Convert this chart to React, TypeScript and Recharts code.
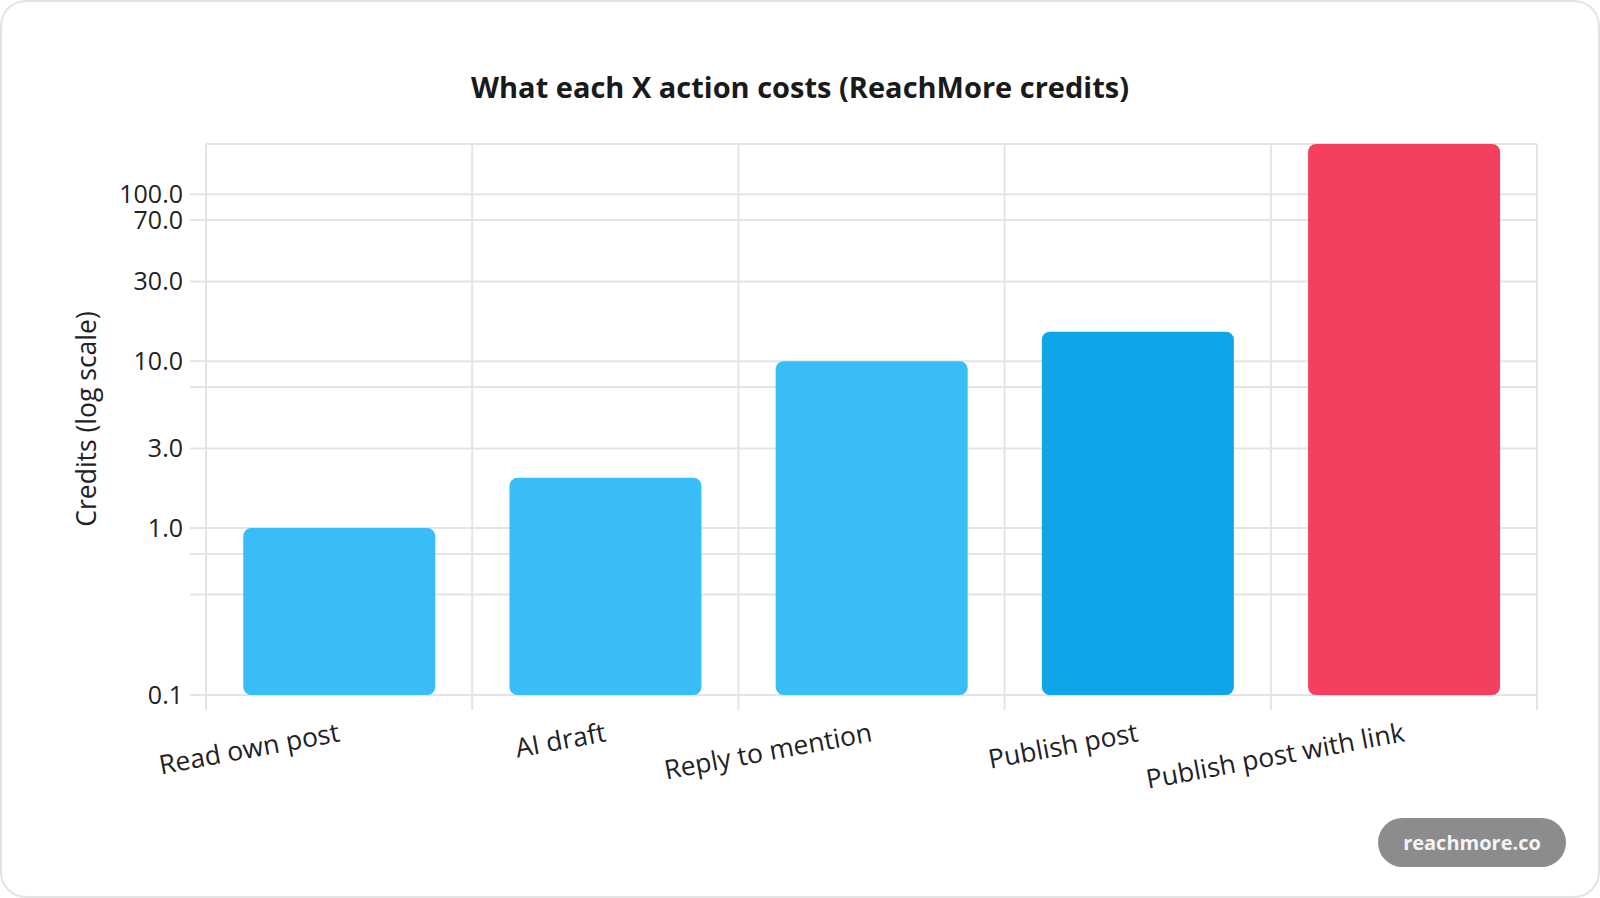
import React from 'react';
import { BarChart, Bar, XAxis, YAxis, CartesianGrid, Cell } from 'recharts';

const categories = ['Read own post', 'AI draft', 'Reply to mention', 'Publish post', 'Publish post with link'];
const credits = [1, 2, 10, 15, 200];
const barColors = ['#38bdf8', '#38bdf8', '#38bdf8', '#0ea5e9', '#f43f5e'];
const yTicks = [0.1, 0.4, 0.7, 1, 3, 7, 10, 30, 70, 100];
const yTickLabels = [0.1, 1, 3, 10, 30, 70, 100];
const yDomain = [0.1, 200];

const data = categories.map((name, i) => ({ name, credits: credits[i] }));

const W = 1600;
const H = 898;
const MARGIN = { top: 144, right: 63, bottom: 143, left: 46 };
const Y_AXIS_W = 160;
const X_AXIS_H = 60;
const GRID = '#e4e4e4';
const TEXT = '#222222';
const FONT = "'Open Sans', 'Noto Sans', sans-serif";
const X_TICK_SIZE = 15;
const X_TICK_MARGIN = 22;
const TICK_FONT = 25;
const X_LABEL_FONT = 26.5;

const plotWidth = W - MARGIN.left - MARGIN.right - Y_AXIS_W;
const step = plotWidth / categories.length;

function XTick(props: any) {
  const { x, y, payload, index } = props;
  const axisY = y - X_TICK_SIZE - X_TICK_MARGIN;
  const left = x - step / 2;
  const right = x + step / 2;
  return (
    <g>
      <line x1={left} x2={left} y1={axisY} y2={axisY + X_TICK_SIZE} stroke={GRID} strokeWidth={2} />
      {index === categories.length - 1 && (
        <line x1={right} x2={right} y1={axisY} y2={axisY + X_TICK_SIZE} stroke={GRID} strokeWidth={2} />
      )}
      <text
        x={x}
        y={y}
        dy="0.35em"
        textAnchor="end"
        transform={`rotate(-10.5 ${x} ${y})`}
        fill={TEXT}
        fontSize={X_LABEL_FONT}
        fontFamily={FONT}
      >
        {payload.value}
      </text>
    </g>
  );
}

function YTick(props: any) {
  const { x, y, payload } = props;
  const v = payload.value;
  if (!yTickLabels.some((t) => Math.abs(t - v) < 1e-9)) return <g />;
  return (
    <text x={x} y={y} dy="0.35em" textAnchor="end" fill={TEXT} fontSize={TICK_FONT} fontFamily={FONT}>
      {Number(v).toFixed(1)}
    </text>
  );
}

const verticalGen = ({ offset }: any) => {
  const pts: number[] = [];
  for (let i = 0; i <= categories.length; i++) {
    pts.push(offset.left + (i * offset.width) / categories.length);
  }
  return pts;
};

export default function App() {
  return (
    <div style={{ position: 'absolute', left: 0, top: 0, width: W, height: H, background: '#fff', fontFamily: FONT }}>
      <div
        style={{
          position: 'absolute',
          left: 0,
          top: 0,
          width: W,
          height: H,
          boxSizing: 'border-box',
          border: '2px solid #e3e3e3',
          borderRadius: 26,
          background: '#fff',
        }}
      />
      <div
        style={{
          position: 'absolute',
          left: 0,
          top: 67,
          width: W,
          height: 40,
          lineHeight: '40px',
          textAlign: 'center',
          fontSize: 29,
          fontWeight: 700,
          color: '#1a1a1a',
        }}
      >
        What each X action costs (ReachMore credits)
      </div>
      <div style={{ position: 'absolute', left: 0, top: 0 }}>
        <BarChart width={W} height={H} data={data} margin={MARGIN} barCategoryGap="14%">
          <CartesianGrid
            stroke={GRID}
            strokeWidth={2}
            vertical={true}
            horizontal={true}
            verticalCoordinatesGenerator={verticalGen}
          />
          <XAxis
            dataKey="name"
            type="category"
            height={X_AXIS_H}
            interval={0}
            axisLine={false}
            tickLine={false}
            tickSize={X_TICK_SIZE}
            tickMargin={X_TICK_MARGIN}
            tick={<XTick />}
          />
          <YAxis
            type="number"
            scale="log"
            domain={yDomain}
            allowDataOverflow
            ticks={yTicks}
            interval={0}
            width={Y_AXIS_W}
            axisLine={{ stroke: GRID, strokeWidth: 2 }}
            tickLine={{ stroke: GRID, strokeWidth: 2 }}
            tickSize={16}
            tickMargin={7}
            tick={<YTick />}
          />
          <Bar dataKey="credits" radius={[8, 8, 8, 8]} isAnimationActive={false}>
            {data.map((d, i) => (
              <Cell key={d.name} fill={barColors[i]} />
            ))}
          </Bar>
        </BarChart>
      </div>
      <div
        style={{
          position: 'absolute',
          left: 86,
          top: 419,
          transform: 'translate(-50%, -50%) rotate(-90deg)',
          whiteSpace: 'nowrap',
          fontSize: 26.5,
          color: TEXT,
        }}
      >
        Credits (log scale)
      </div>
      <div
        style={{
          position: 'absolute',
          left: 1378,
          top: 818,
          width: 188,
          height: 49,
          borderRadius: 25,
          background: '#8c8c8c',
          color: '#f4f4f4',
          fontSize: 20,
          fontWeight: 700,
          lineHeight: '49px',
          textAlign: 'center',
          boxSizing: 'border-box',
        }}
      >
        reachmore.co
      </div>
    </div>
  );
}
